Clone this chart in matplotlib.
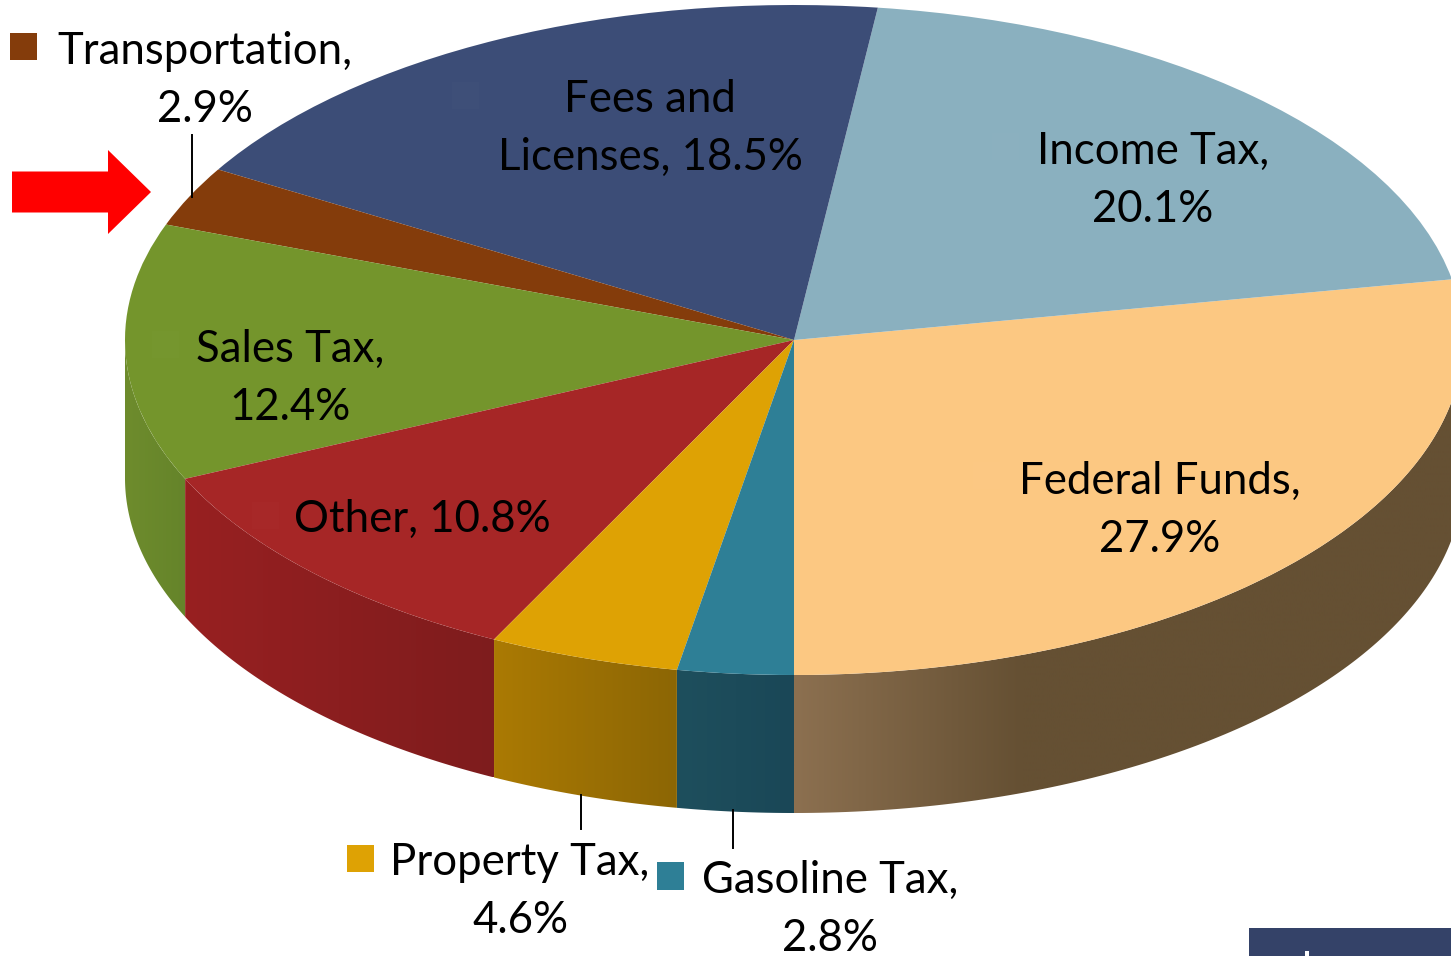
import numpy as np
import matplotlib
matplotlib.use('Agg')
import matplotlib.pyplot as plt
from matplotlib.colors import to_rgb
from matplotlib.patches import Polygon, Rectangle

W, H = 1451, 956

# kolejnosc od godziny 6 przeciwnie do wskazowek zegara
categories = ['Federal Funds', 'Income Tax', 'Fees and Licenses', 'Transportation',
              'Sales Tax', 'Other', 'Property Tax', 'Gasoline Tax']
shares = [27.9, 20.1, 18.5, 2.9, 12.4, 10.8, 4.6, 2.8]
top_colors = ['#FCC882', '#8AB0BF', '#3C4D77', '#843C0B',
              '#74952C', '#A62626', '#DEA204', '#2E7F96']
wall_left = ['#8C7050', None, None, None, '#6E8C2D', '#982021', '#AB7A03', '#1E4F5D']
wall_right = ['#655033', None, None, None, '#65842A', '#7E1C1D', '#8C6605', '#1A4757']

label_lines = [
    (['Transportation,', '2.9%'], 205, 49),
    (['Fees and', 'Licenses, 18.5%'], 650, 97),
    (['Income Tax,', '20.1%'], 1153, 149),
    (['Federal Funds,', '27.9%'], 1160, 479),
    (['Sales Tax,', '12.4%'], 290, 347),
    (['Other, 10.8%'], 422, 517),
    (['Property Tax,', '4.6%'], 520, 860),
    (['Gasoline Tax,', '2.8%'], 830, 878),
]

# geometria elipsy w pikselach obrazka
cx, cy, rx, ry = 794, 340, 669, 335
depth = 138 / ry

fig = plt.figure(figsize=(W / 100, H / 100), dpi=100)
ax = fig.add_axes([0, 0, 1, 1])

# sciany boczne - tylko dolna polowa elipsy jest widoczna
edges = -90 + np.cumsum([0] + shares) * 3.6
for i, name in enumerate(categories):
    if wall_left[i] is None:
        continue
    a0, a1 = edges[i], edges[i + 1]
    if name == 'Federal Funds':
        a1 = 0
    if name == 'Sales Tax':
        a0 = 180
    t = np.radians(np.linspace(a0, a1, 120))
    x = np.cos(t)
    y = np.sin(t)
    outline = np.column_stack([np.r_[x, x[::-1]], np.r_[y, y[::-1] - depth]])
    x0, x1 = x.min(), x.max()
    fade = 0.34 if name == 'Federal Funds' else x1 - x0
    f = np.clip(np.linspace(0, x1 - x0, 256) / fade, 0, 1)[None, :, None]
    c0 = np.array(to_rgb(wall_left[i]))
    c1 = np.array(to_rgb(wall_right[i]))
    grad = c0 + (c1 - c0) * f
    im = ax.imshow(grad, extent=(x0, x1, y.min() - depth, y.max()), aspect='auto',
                   interpolation='bilinear', zorder=0.5)
    im.set_clip_path(Polygon(outline, closed=True, transform=ax.transData))

ax.pie(shares, colors=top_colors, startangle=-90, counterclock=True, radius=1,
       wedgeprops={'linewidth': 0})
ax.set_aspect('auto')
ax.set_xlim(-cx / rx, (W - cx) / rx)
ax.set_ylim((cy - H) / ry, cy / ry)

# nakladka w pikselach na etykiety i dodatki
ov = fig.add_axes([0, 0, 1, 1])
ov.set_xlim(0, W)
ov.set_ylim(H, 0)
ov.axis('off')

for lines, xc, yc in label_lines:
    for k, line in enumerate(lines):
        ov.text(xc, yc + 15 + k * 58, line, ha='center', va='baseline',
                fontsize=31.5, family='Lato', color='black')

# klucze legendy przy etykietach zewnetrznych
ov.add_patch(Rectangle((10, 33), 27, 27, color=top_colors[3], lw=0))
ov.add_patch(Rectangle((347, 845), 27, 27, color=top_colors[6], lw=0))
ov.add_patch(Rectangle((657, 862), 27, 28, color=top_colors[7], lw=0))

# ledwo widoczne klucze na wycinkach
for kx, ky in [(973, 462), (992, 133), (452, 82), (152, 331), (252, 502)]:
    ov.add_patch(Rectangle((kx, ky), 27, 27, color='white', alpha=0.012, lw=0))

# linie odniesienia
ov.plot([192, 192], [135, 197], color='black', lw=1.4)
ov.plot([581, 581], [795, 829], color='black', lw=1.4)
ov.plot([733, 733], [810, 848], color='black', lw=1.4)

# czerwona strzalka
ov.arrow(12, 192, 139, 0, width=41, head_width=84, head_length=43,
         length_includes_head=True, color='#FF0000', lw=0)

# fragment paska w prawym dolnym rogu
ov.add_patch(Rectangle((1249, 928), 202, 28, color='#344268', lw=0))
ov.add_patch(Rectangle((1305, 951), 4, 5, color='white', lw=0))

plt.savefig('out.png', dpi=100)
plt.close()
